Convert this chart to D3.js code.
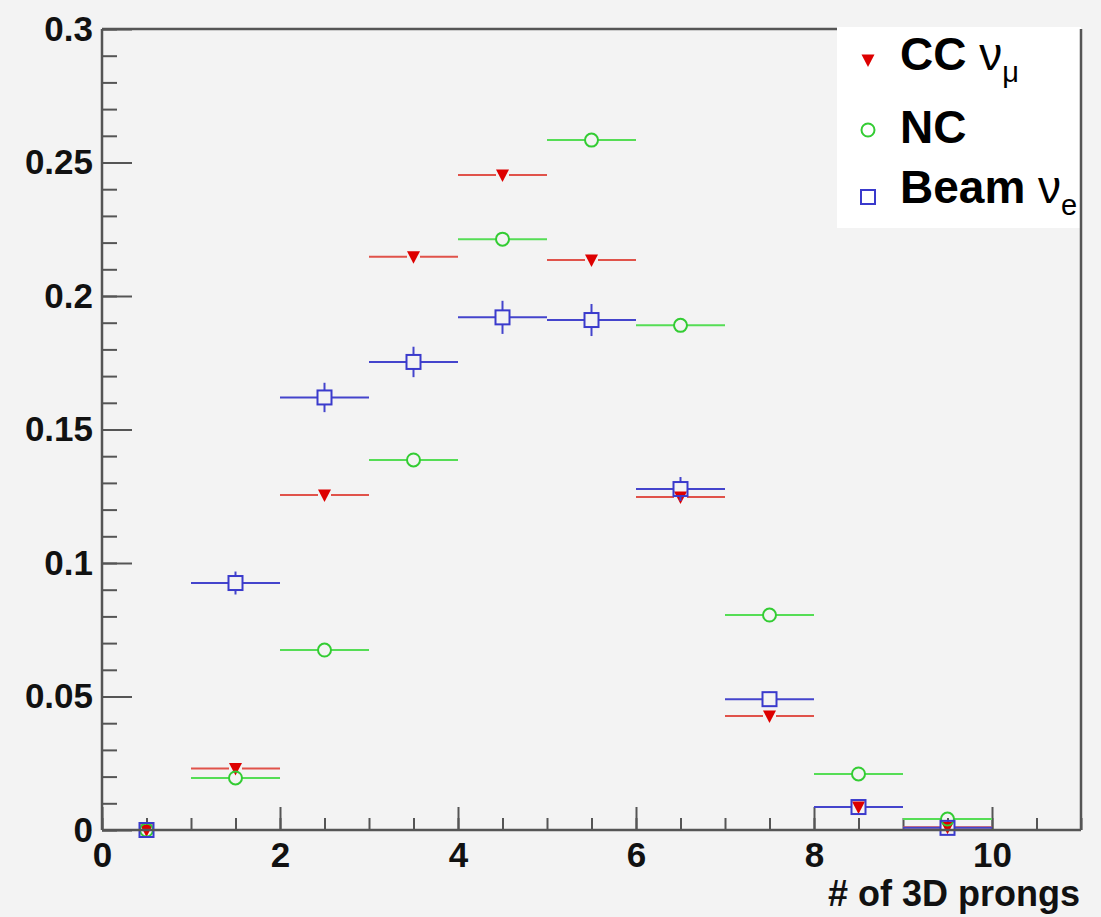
<!DOCTYPE html>
<html>
<head>
<meta charset="utf-8">
<script src="https://cdn.jsdelivr.net/npm/d3@7"></script>
<style>
  html, body { margin: 0; padding: 0; background: #f3f3f3; }
  svg { display: block; font-family: "Liberation Sans", Arial, sans-serif; }
</style>
</head>
<body>
<div id="chart"></div>
<script>
// bin centres of the "# of 3D prongs" histogram (bin width 1)
const bins = [0.5, 1.5, 2.5, 3.5, 4.5, 5.5, 6.5, 7.5, 8.5, 9.5];
const ccNumu = [0.0, 0.023, 0.1255, 0.2147, 0.2453, 0.2135, 0.1247, 0.0427, 0.0086, 0.001];
const nc = [0.0, 0.0195, 0.0674, 0.1386, 0.2213, 0.2584, 0.189, 0.0805, 0.021, 0.0041];
const beamNue = [0.0, 0.0925, 0.162, 0.1753, 0.192, 0.191, 0.1277, 0.049, 0.0086, 0.0008];
const beamNueErr = [0.0, 0.0043, 0.0055, 0.0057, 0.0062, 0.006, 0.0045, 0.0028, 0.0015, 0.0005];
const xTicks = [0, 2, 4, 6, 8, 10];
const yTicks = [0, 0.05, 0.1, 0.15, 0.2, 0.25, 0.3];

const W = 1101, H = 917;
const margin = { top: 29, right: 20, bottom: 87, left: 102 };

const svg = d3.select("#chart").append("svg")
  .attr("width", W).attr("height", H);

svg.append("rect").attr("width", W).attr("height", H).attr("fill", "#f3f3f3");

const x = d3.scaleLinear().domain([0, 11]).range([margin.left, W - margin.right]);
const y = d3.scaleLinear().domain([0, 0.3]).range([H - margin.bottom, margin.top]);

const axisColor = "#555";

// minor ticks first, then major ticks with labels
svg.append("g")
  .attr("transform", `translate(0,${y(0)})`)
  .call(d3.axisBottom(x).tickValues(d3.range(0, 11.01, 0.5)).tickSize(-12).tickFormat(""))
  .call(g => g.select(".domain").remove());
svg.append("g")
  .attr("transform", `translate(0,${y(0)})`)
  .call(d3.axisBottom(x).tickValues(xTicks).tickSize(-23).tickPadding(12).tickFormat(d3.format("d")))
  .call(g => g.select(".domain").remove());

svg.append("g")
  .attr("transform", `translate(${x(0)},0)`)
  .call(d3.axisLeft(y).tickValues(d3.range(0, 0.3001, 0.01)).tickSize(-15).tickFormat(""))
  .call(g => g.select(".domain").remove());
svg.append("g")
  .attr("transform", `translate(${x(0)},0)`)
  .call(d3.axisLeft(y).tickValues(yTicks).tickSize(-30).tickPadding(9).tickFormat(d => d === 0 ? "0" : String(+d.toFixed(2))))
  .call(g => g.select(".domain").remove());

svg.selectAll(".tick line").attr("stroke", axisColor).attr("stroke-width", 2);
svg.selectAll(".tick text")
  .attr("fill", "#111").attr("font-size", 35).attr("font-weight", "bold")
  .attr("font-family", "Liberation Sans, Arial, sans-serif");

// series
const series = [
  { name: "cc", values: ccNumu, err: null, line: "#e0524a", marker: "tri", color: "#dd0000", half: 6.5 },
  { name: "nc", values: nc, err: null, line: "#55dd55", marker: "circ", color: "#33cc33", half: 6.5 },
  { name: "nue", values: beamNue, err: beamNueErr, line: "#4444cc", marker: "sq", color: "#3a3acc", half: 7 }
];

function drawMarker(g, type, cx, cy, color) {
  if (type === "tri") {
    g.append("path")
      .attr("d", `M${cx - 6.5},${cy - 5.5}L${cx + 6.5},${cy - 5.5}L${cx},${cy + 7}Z`)
      .attr("fill", color);
  } else if (type === "circ") {
    g.append("circle").attr("cx", cx).attr("cy", cy).attr("r", 6.5)
      .attr("fill", "none").attr("stroke", color).attr("stroke-width", 2);
  } else {
    g.append("rect").attr("x", cx - 7).attr("y", cy - 7).attr("width", 14).attr("height", 14)
      .attr("fill", "none").attr("stroke", color).attr("stroke-width", 2);
  }
}

series.forEach(s => {
  const g = svg.append("g").attr("class", s.name);
  bins.forEach((b, i) => {
    const cx = x(b), cy = y(s.values[i]);
    const lo = x(b - 0.5), hi = x(b + 0.5);
    g.append("line").attr("x1", lo).attr("x2", cx - s.half).attr("y1", cy).attr("y2", cy)
      .attr("stroke", s.line).attr("stroke-width", 2);
    g.append("line").attr("x1", cx + s.half).attr("x2", hi).attr("y1", cy).attr("y2", cy)
      .attr("stroke", s.line).attr("stroke-width", 2);
    if (s.err) {
      const top = y(s.values[i] + s.err[i]), bot = y(s.values[i] - s.err[i]);
      if (cy - top > s.half) {
        g.append("line").attr("x1", cx).attr("x2", cx).attr("y1", top).attr("y2", cy - s.half)
          .attr("stroke", s.line).attr("stroke-width", 2);
        g.append("line").attr("x1", cx).attr("x2", cx).attr("y1", cy + s.half).attr("y2", bot)
          .attr("stroke", s.line).attr("stroke-width", 2);
      }
    }
    drawMarker(g, s.marker, cx, cy, s.color);
  });
});

// legend box
const lg = svg.append("g");
lg.append("rect").attr("x", 837).attr("y", 27).attr("width", 244).attr("height", 201).attr("fill", "#fff");

const legendItems = [
  { label: "CC ", sub: "μ", marker: "tri", color: "#dd0000", my: 60, ty: 70 },
  { label: "NC", sub: null, marker: "circ", color: "#33cc33", my: 130, ty: 143 },
  { label: "Beam ", sub: "e", marker: "sq", color: "#3a3acc", my: 197, ty: 203 }
];
legendItems.forEach(d => {
  drawMarker(lg, d.marker, 868, d.my, d.color);
  const t = lg.append("text").attr("x", 900).attr("y", d.ty)
    .attr("font-size", 46).attr("font-weight", "bold").attr("fill", "#000");
  t.append("tspan").text(d.label);
  if (d.sub) {
    t.append("tspan").attr("font-weight", "normal").text("ν");
    t.append("tspan").attr("font-weight", "normal").attr("font-size", 29).attr("dy", 12).text(d.sub);
  }
});

// frame (drawn after the legend so the right edge stays visible)
svg.append("line").attr("x1", x(0)).attr("x2", 837).attr("y1", y(0.3)).attr("y2", y(0.3))
  .attr("stroke", axisColor).attr("stroke-width", 2.5);
svg.append("line").attr("x1", x(11)).attr("x2", x(11)).attr("y1", y(0.3)).attr("y2", y(0))
  .attr("stroke", axisColor).attr("stroke-width", 2.5);
svg.append("line").attr("x1", x(0)).attr("x2", x(11)).attr("y1", y(0)).attr("y2", y(0))
  .attr("stroke", axisColor).attr("stroke-width", 2.5);
svg.append("line").attr("x1", x(0)).attr("x2", x(0)).attr("y1", y(0.3)).attr("y2", y(0))
  .attr("stroke", axisColor).attr("stroke-width", 2.5);

// axis title
svg.append("text").attr("x", 1080).attr("y", 906).attr("text-anchor", "end")
  .attr("font-size", 36).attr("font-weight", "bold").attr("fill", "#111")
  .text("# of 3D prongs");
</script>
</body>
</html>
